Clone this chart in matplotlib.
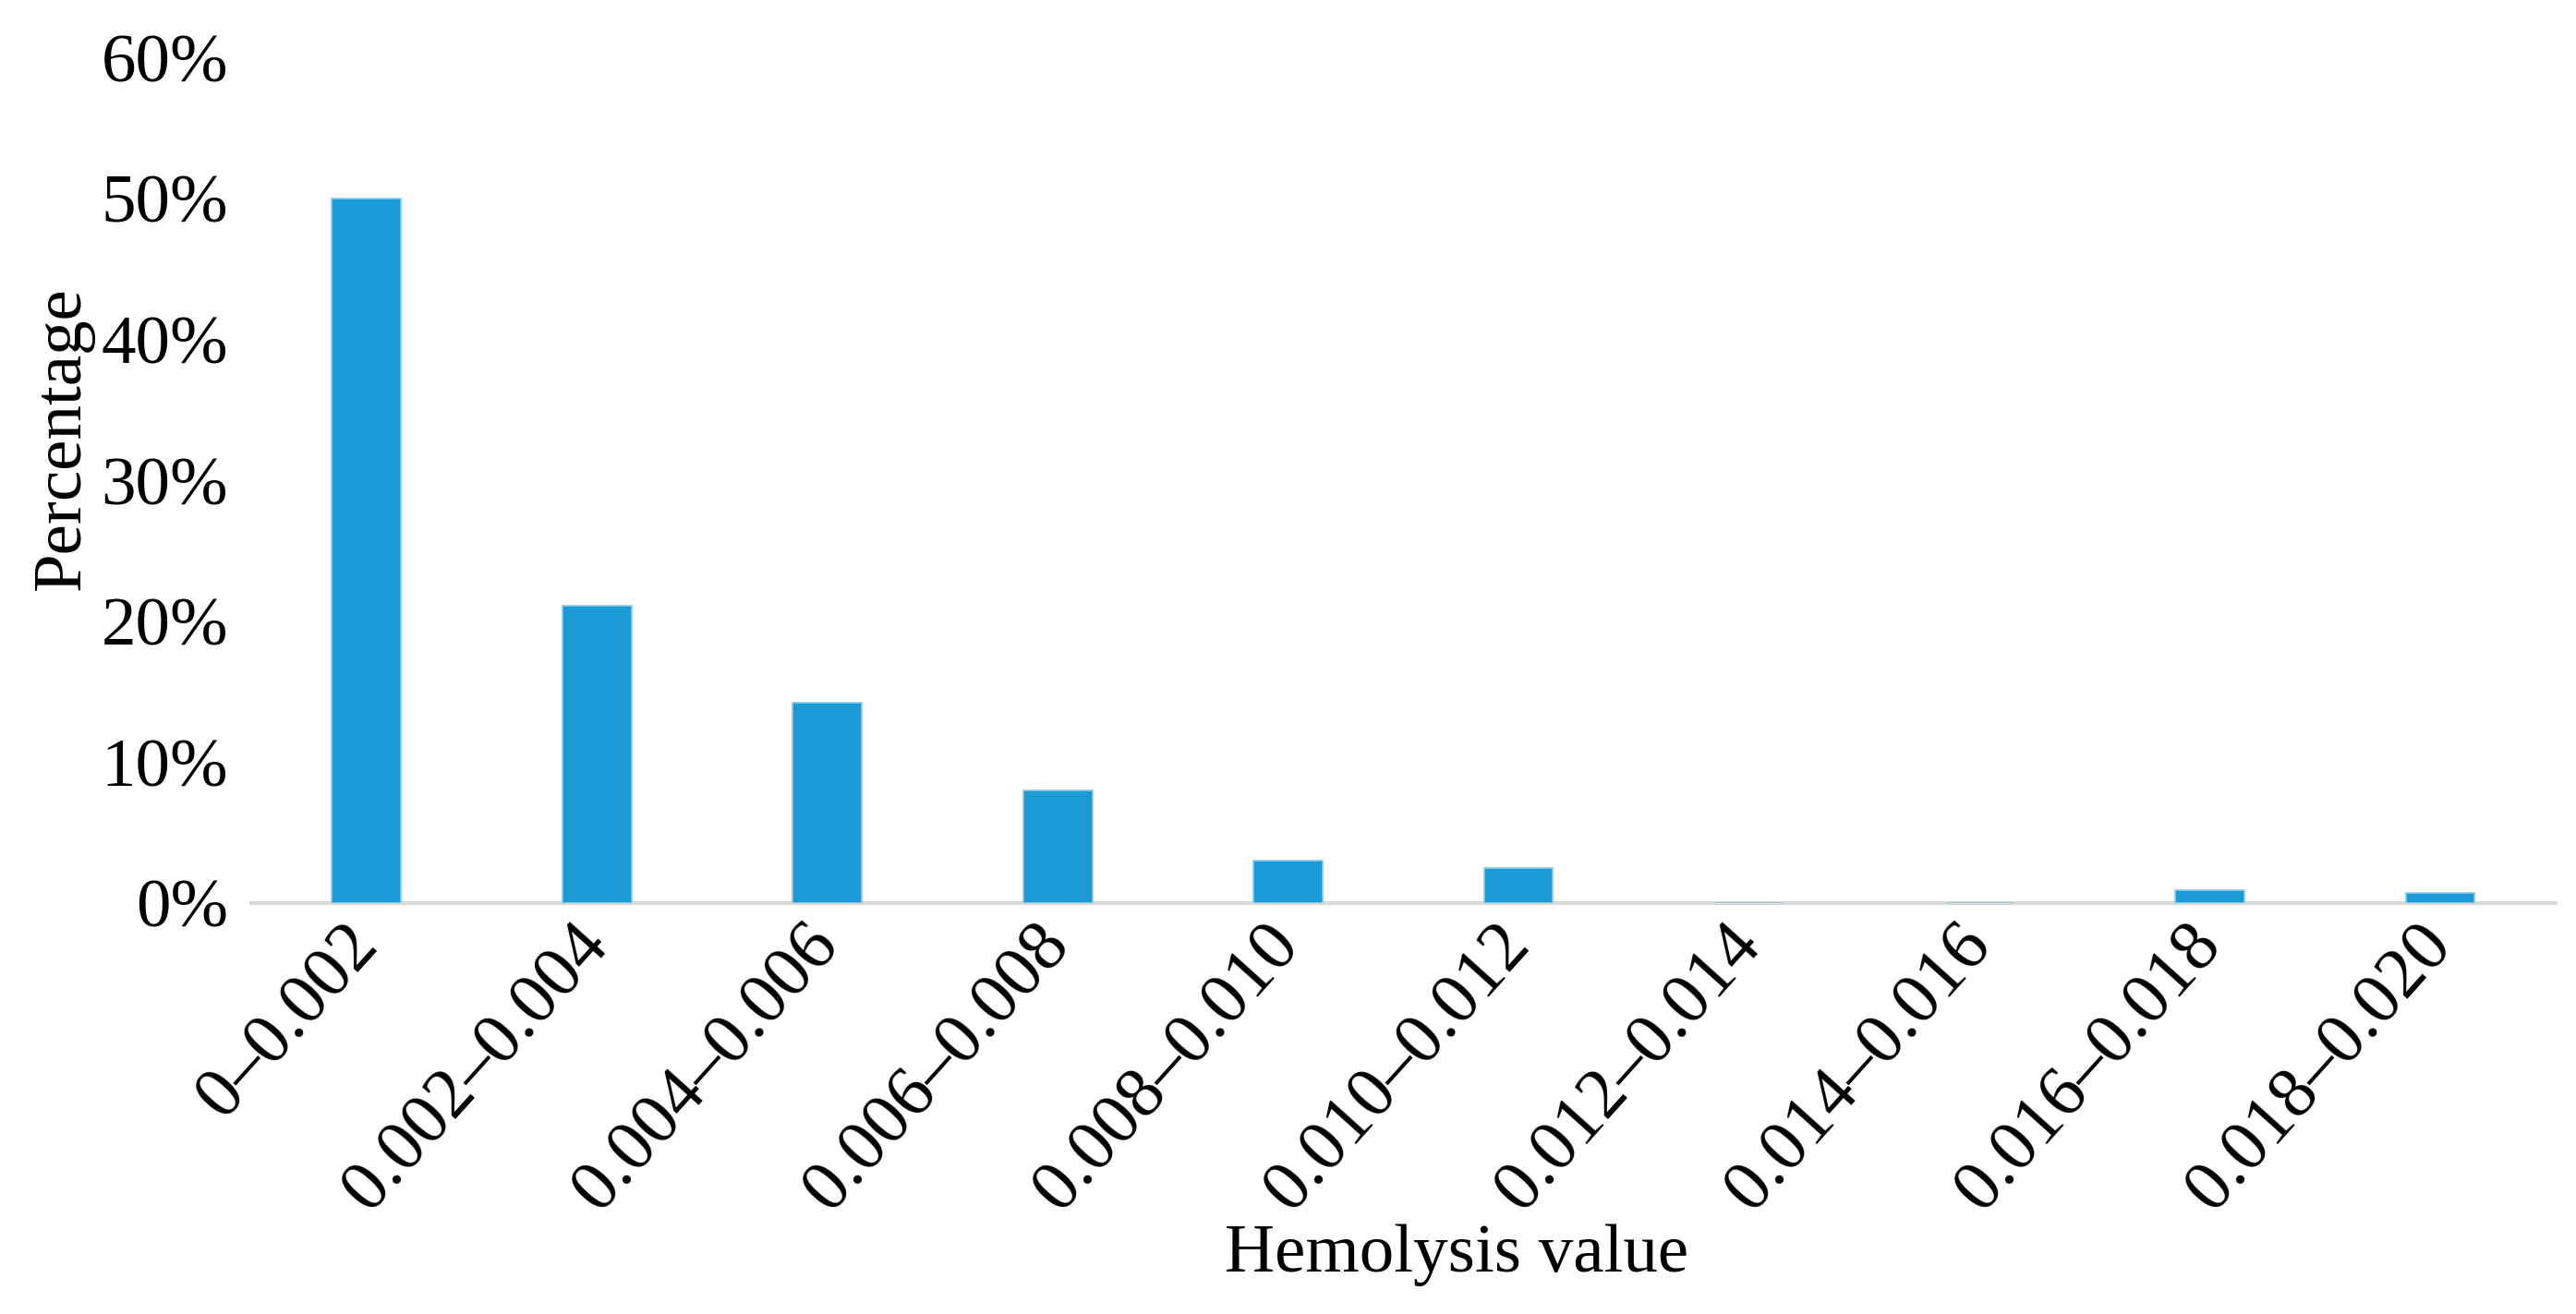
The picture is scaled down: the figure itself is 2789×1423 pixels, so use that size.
import matplotlib as mpl
mpl.use("Agg")
import matplotlib.pyplot as plt
from matplotlib.ticker import FuncFormatter
from matplotlib.transforms import ScaledTranslation

# hemolysis value bins and share of samples (%)
CATEGORIES = [
    "0–0.002", "0.002–0.004", "0.004–0.006", "0.006–0.008", "0.008–0.010",
    "0.010–0.012", "0.012–0.014", "0.014–0.016", "0.016–0.018", "0.018–0.020",
]
PERCENT = [50.0, 21.1, 14.2, 8.0, 3.0, 2.5, 0.0, 0.0, 0.9, 0.7]
Y_TICKS = [0, 10, 20, 30, 40, 50, 60]

BAR_COLOR = "#1B9AD6"
FONT = ["Liberation Serif", "DejaVu Serif"]

mpl.rcParams.update({
    "font.family": FONT,
    "font.size": 54,
})

fig = plt.figure(figsize=(27.89, 14.23), dpi=100, facecolor="white")
ax = fig.add_axes([0.0975, 0.3127, 0.8945, 0.6433])

x = list(range(len(CATEGORIES)))
ax.bar(x, PERCENT, width=0.3, color=BAR_COLOR, edgecolor="#8CCBEB",
       linewidth=1.2, zorder=3)

ax.set_xlim(-0.5, len(CATEGORIES) - 0.5)
ax.set_ylim(0, 60)
ax.set_yticks(Y_TICKS)
ax.yaxis.set_major_formatter(FuncFormatter(lambda v, _: "%d%%" % v))
ax.set_xticks(x)
ax.set_xticklabels(CATEGORIES, rotation=48, ha="right", va="center",
                   rotation_mode="anchor", fontsize=56)
shift = ScaledTranslation(0.52, 0.0, fig.dpi_scale_trans)
for lbl in ax.get_xticklabels():
    lbl.set_transform(lbl.get_transform() + shift)

for side in ("top", "right", "left"):
    ax.spines[side].set_visible(False)
ax.spines["bottom"].set_color("#D9D9D9")
ax.spines["bottom"].set_linewidth(3)
ax.tick_params(axis="both", length=0)
ax.tick_params(axis="y", pad=18)
ax.tick_params(axis="x", pad=24)

ax.set_ylabel("Percentage", fontsize=54)
ax.yaxis.set_label_coords(-0.068, 0.55)

fig.text(0.5655, 0.045, "Hemolysis value", ha="center", va="center",
         fontsize=54)

fig.savefig("out.png", dpi=100, facecolor="white")
